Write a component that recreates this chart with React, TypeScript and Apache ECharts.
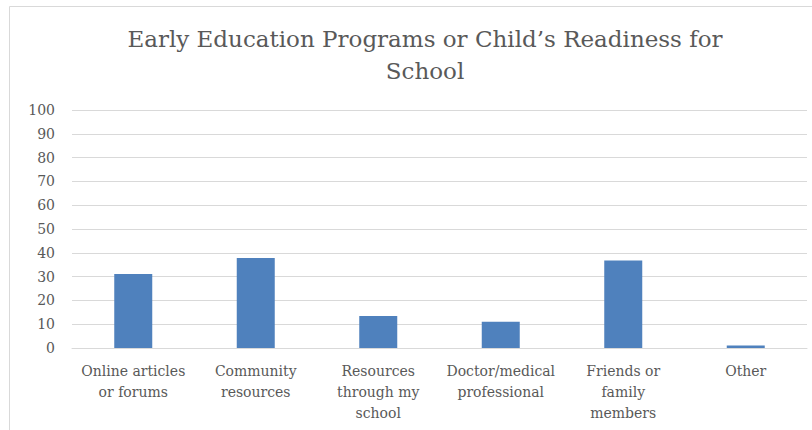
import React, { useEffect, useRef } from "react";
import * as echarts from "echarts";

const categories = [
  "Online articles\nor forums",
  "Community\nresources",
  "Resources\nthrough my\nschool",
  "Doctor/medical\nprofessional",
  "Friends or\nfamily\nmembers",
  "Other",
];
const values = [31.1, 37.8, 13.4, 11.0, 36.8, 1.0];
const titleText = "Early Education Programs or Child’s Readiness for\nSchool";

export default function App() {
  const ref = useRef<HTMLDivElement>(null);
  useEffect(() => {
    const chart = echarts.init(ref.current!, undefined, { renderer: "svg" });
    const font = "'DejaVu Serif', serif";
    chart.setOption({
      animation: false,
      backgroundColor: "#ffffff",
      graphic: [
        {
          type: "rect",
          shape: { x: 9.5, y: 6.5, width: 840, height: 460 },
          style: { fill: "none", stroke: "#d9d9d9", lineWidth: 1 },
          silent: true,
        },
      ],
      title: {
        text: titleText,
        left: 420,
        top: 18,
        textAlign: "center",
        textStyle: {
          fontFamily: font,
          fontSize: 23,
          fontWeight: "normal",
          color: "#595959",
          lineHeight: 32,
        },
      },
      grid: { left: 72, right: 5, top: 110, bottom: 82, containLabel: false },
      xAxis: {
        type: "category",
        data: categories,
        axisLine: { lineStyle: { color: "#d9d9d9", width: 1 } },
        axisTick: { show: false },
        axisLabel: {
          interval: 0,
          margin: 12,
          fontFamily: font,
          fontSize: 14,
          color: "#595959",
          lineHeight: 21,
        },
      },
      yAxis: {
        type: "value",
        min: 0,
        max: 100,
        interval: 10,
        axisLine: { show: false },
        axisTick: { show: false },
        splitLine: { lineStyle: { color: "#d9d9d9", width: 1 } },
        axisLabel: {
          margin: 17,
          fontFamily: font,
          fontSize: 14,
          color: "#595959",
        },
      },
      series: [
        {
          type: "bar",
          data: values,
          barWidth: 38,
          itemStyle: { color: "#4f81bd" },
        },
      ],
    });
    return () => chart.dispose();
  }, []);
  return (
    <div
      ref={ref}
      style={{ position: "fixed", left: 0, top: 0, width: 812, height: 430 }}
    />
  );
}
